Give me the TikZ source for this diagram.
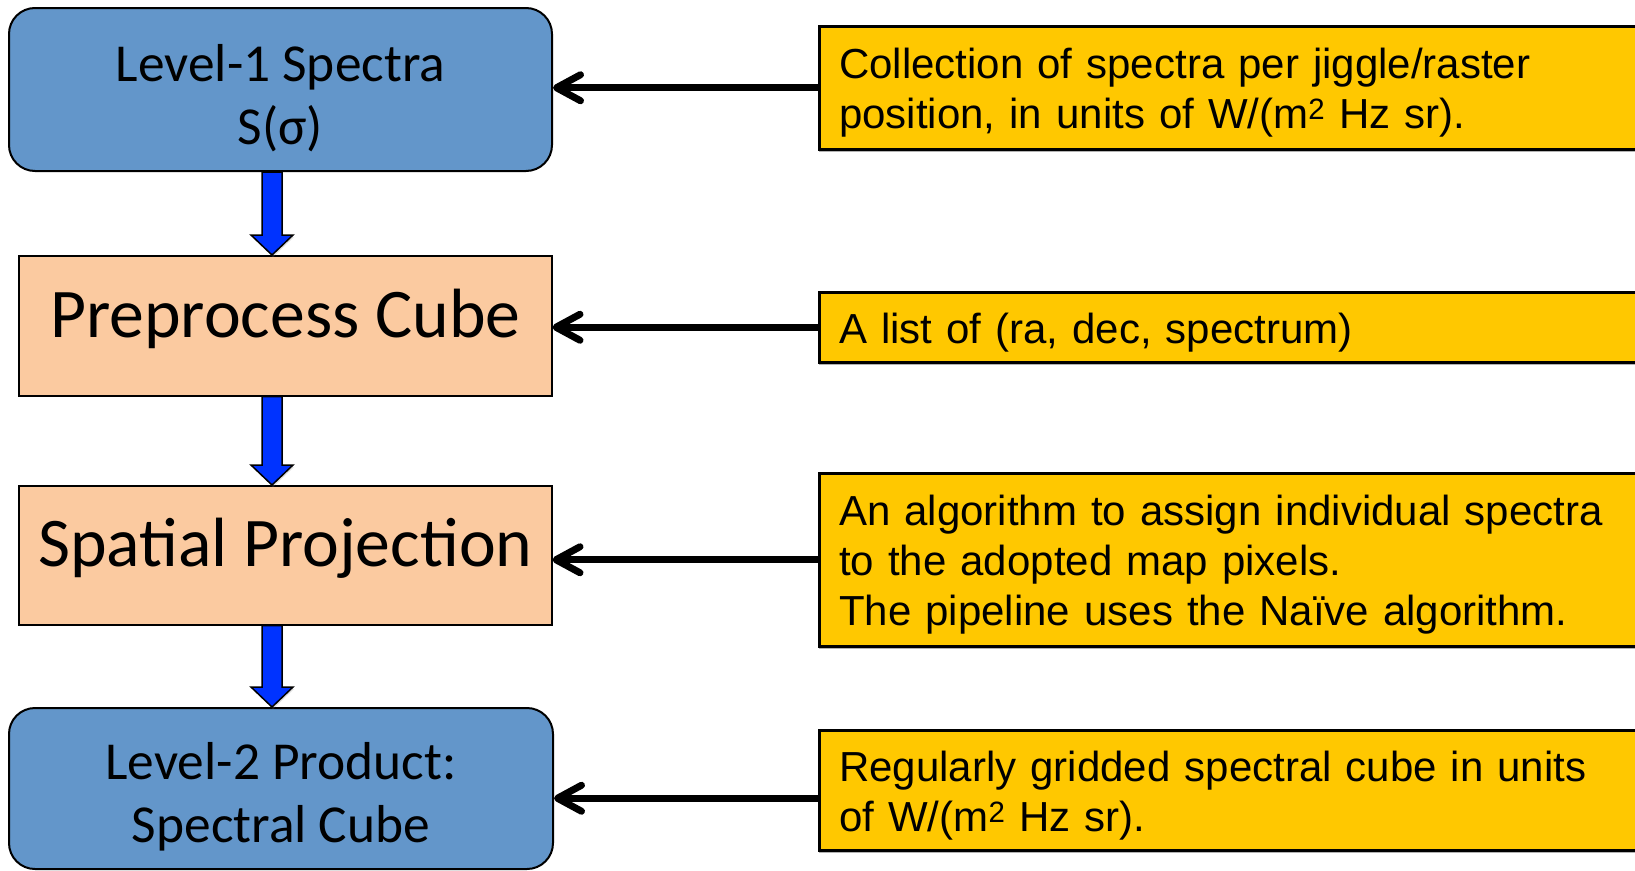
\documentclass[tikz,border=0pt]{standalone}
\usepackage{fontspec}
\setmainfont{Liberation Sans}
\newfontfamily\calib{Carlito}
\usetikzlibrary{arrows.meta,calc,shadows}
\definecolor{boxblue}{HTML}{6396CA}
\definecolor{peach}{HTML}{FBCAA0}
\definecolor{ygold}{HTML}{FFC800}
\definecolor{arrblue}{HTML}{0033FF}
\newcommand\topstrut{\rule{0pt}{54pt}}
\newcommand\flowarrow[2]{%
  \draw[flow] let \p1=(#1.south), \p2=(#2.north), \p3=(b1.south) in
    (\x3-18.5pt,\y1) -- (\x3+1.5pt,\y1) -- (\x3+1.5pt,\y2+20pt) -- (\x3+12.5pt,\y2+20pt)
    -- (\x3-8.5pt,\y2) -- (\x3-29.5pt,\y2+20pt) -- (\x3-18.5pt,\y2+20pt) -- cycle;}
\begin{document}
\begin{tikzpicture}[x=1pt,y=-1pt,
  bluebox/.style={draw=black, line width=2pt, fill=boxblue, rounded corners=26pt,
    anchor=north west, inner sep=0pt, align=center,
    font=\calib\fontsize{53.4}{63}\selectfont},
  peachbox/.style={draw=black, line width=1.5pt, fill=peach, anchor=north west,
    inner sep=0pt, font=\calib\fontsize{69.7}{80}\selectfont,
    text height=45pt, text depth=22pt},
  notebox/.style={draw=black, line width=2.5pt, fill=ygold, anchor=north west,
    inner xsep=20pt, inner ysep=0pt, align=left, text width=800pt,
    font=\fontsize{42}{50}\selectfont,
    execute at begin node={\rule{0pt}{41pt}},
    drop shadow={shadow xshift=0pt, shadow yshift=-2.5pt, fill=gray, opacity=0.6}},
  feed/.style={line width=7pt, -{Straight Barb[length=24pt,width=26pt,round]}},
  flow/.style={draw=black, line width=1.5pt, fill=arrblue, line join=miter,
    drop shadow={shadow xshift=1pt, shadow yshift=-2pt, opacity=0.25}},
]
\useasboundingbox (0,0) rectangle (1635,870);
\fill[white] (0,0) rectangle (1635,870);

\node[bluebox, minimum width=543pt, minimum height=163pt] (b1) at (8,7) {\topstrut Level-1 Spectra\\S(σ)};
\node[peachbox, minimum width=533pt, minimum height=140pt] (b2) at (18,255) {Preprocess Cube};
\node[peachbox, minimum width=533pt, minimum height=139pt] (b3) at (18,485) {Spatial Projection};
\node[bluebox, minimum width=544pt, minimum height=161pt] (b4) at (8,707) {\topstrut Level-2 Product:\\Spectral Cube};

\node[notebox, minimum height=123pt] (n1) at (818,25) {Collection of spectra per jiggle/raster\\position, in units of W/(m\textsuperscript{2} Hz sr).};
\node[notebox, minimum height=70pt] (n2) at (818,291) {A list of (ra, dec, spectrum)};
\node[notebox, minimum height=173pt] (n3) at (818,472) {An algorithm to assign individual spectra\\to the adopted map pixels.\\The pipeline uses the Naïve algorithm.};
\node[notebox, minimum height=120pt] (n4) at (818,729) {Regularly gridded spectral cube in units\\of W/(m\textsuperscript{2} Hz sr).};

\flowarrow{b1}{b2}
\flowarrow{b2}{b3}
\flowarrow{b3}{b4}

\draw[feed] (n1.west) -- (n1.west -| b1.east);
\draw[feed] (n2.west) -- (n2.west -| b2.east);
\draw[feed] (n3.west) -- (n3.west -| b3.east);
\draw[feed] ($(n4.west)+(0,8)$) -- ($(n4.west -| b4.east)+(0,8)$);
\end{tikzpicture}
\end{document}
